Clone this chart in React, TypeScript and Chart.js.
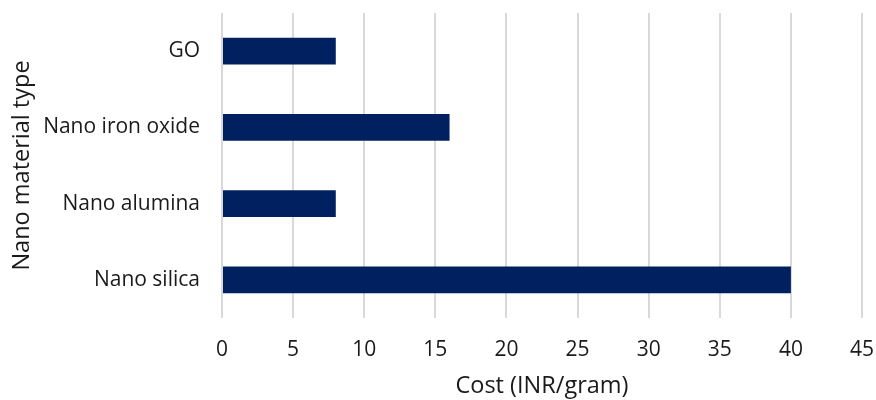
import React, { useEffect, useRef } from "react";
import { Chart, registerables } from "chart.js";

Chart.register(...registerables);

const categories = ["GO", "Nano iron oxide", "Nano alumina", "Nano silica"];
const costs = [8, 16, 8, 40];
const xMin = 0;
const xMax = 45;
const xStep = 5;

const FONT = "'Open Sans', sans-serif";

export default function App() {
  const ref = useRef<HTMLCanvasElement | null>(null);
  useEffect(() => {
    if (!ref.current) return;
    const chart = new Chart(ref.current, {
      type: "bar",
      data: {
        labels: categories,
        datasets: [
          {
            data: costs,
            backgroundColor: "#002060",
            barPercentage: 0.354,
            categoryPercentage: 1,
          },
        ],
      },
      options: {
        indexAxis: "y",
        animation: false,
        responsive: false,
        maintainAspectRatio: false,
        layout: { padding: { top: 13, right: 14, left: 0, bottom: 0 } },
        plugins: { legend: { display: false }, tooltip: { enabled: false } },
        scales: {
          x: {
            min: xMin,
            max: xMax,
            ticks: {
              stepSize: xStep,
              color: "#1a1a1a",
              font: { family: FONT, size: 21 },
              padding: 19,
            },
            grid: { color: "#d9d9d9", lineWidth: 2, drawTicks: false },
            border: { display: false },
            title: {
              display: true,
              text: "Cost (INR/gram)",
              color: "#1a1a1a",
              font: { family: FONT, size: 23.5 },
              padding: { top: 0, bottom: 0 },
            },
            afterFit: (s: any) => {
              s.height = 82;
              s.paddingLeft = 0;
              s.paddingRight = 0;
            },
          },
          y: {
            ticks: {
              color: "#1a1a1a",
              font: { family: FONT, size: 21 },
              padding: 22,
            },
            grid: { display: false, drawTicks: false },
            border: { display: false },
            title: {
              display: true,
              text: "Nano material type",
              color: "#1a1a1a",
              font: { family: FONT, size: 23.5 },
              padding: { top: 8, bottom: 0 },
            },
            afterFit: (s: any) => {
              s.width = 222;
              s.paddingTop = 0;
              s.paddingBottom = 0;
            },
          },
        },
      },
    });
    return () => chart.destroy();
  }, []);
  return (
    <div style={{ position: "fixed", left: 0, top: 0, width: 876, height: 400, background: "#fff" }}>
      <canvas ref={ref} width={876} height={400} style={{ width: 876, height: 400 }} />
    </div>
  );
}
